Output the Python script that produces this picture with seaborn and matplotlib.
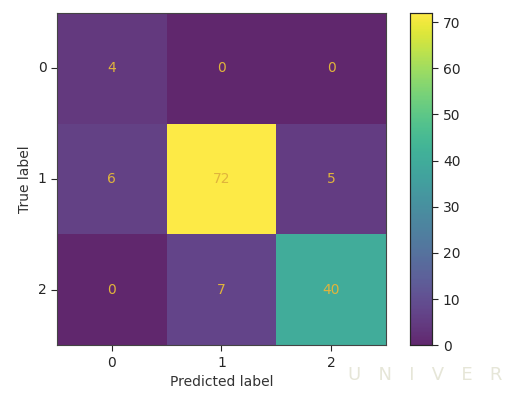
import numpy as np
import pandas as pd
import matplotlib
matplotlib.use('Agg')
import matplotlib.pyplot as plt
import seaborn as sns

# confusion matrix values
class_labels = ['0', '1', '2']
row_0 = [4, 0, 0]
row_1 = [6, 72, 5]
row_2 = [0, 7, 40]
cbar_ticks = [0, 10, 20, 30, 40, 50, 60, 70]

cm = pd.DataFrame([row_0, row_1, row_2], index=class_labels, columns=class_labels)

sns.set_style('white')
plt.rcParams['font.family'] = ['DejaVu Sans']

fig = plt.figure(figsize=(5.28, 3.94), dpi=100)
ax = fig.add_axes([0.108, 0.124, 0.623, 0.843])
cax = fig.add_axes([0.777, 0.124, 0.042, 0.843])

sns.heatmap(cm, ax=ax, cbar_ax=cax, cmap='viridis', alpha=0.85,
            annot=True, fmt='d', annot_kws={'color': '#e0b43c', 'fontsize': 10},
            cbar_kws={'ticks': cbar_ticks})

ax.set_xlabel('Predicted label', fontsize=10, color='#333333')
ax.set_ylabel('True label', fontsize=10, color='#333333')
ax.tick_params(axis='both', length=4, left=True, bottom=True, labelsize=10)
ax.set_yticklabels(class_labels, rotation=0)
ax.set_xticklabels(class_labels, rotation=0)
for s in ax.spines.values():
    s.set_visible(True)
    s.set_color('#444444')
    s.set_linewidth(0.8)

cax.tick_params(labelsize=10, length=4, right=True)
for s in cax.spines.values():
    s.set_visible(True)
    s.set_linewidth(0.8)

# faint watermark text at the bottom right, kept clear of the tick labels
fig.text(0.66, 0.035, 'U   N   I   V   E   R', fontsize=13, color='#e6e6d8')

fig.savefig('out.png', dpi=100)
